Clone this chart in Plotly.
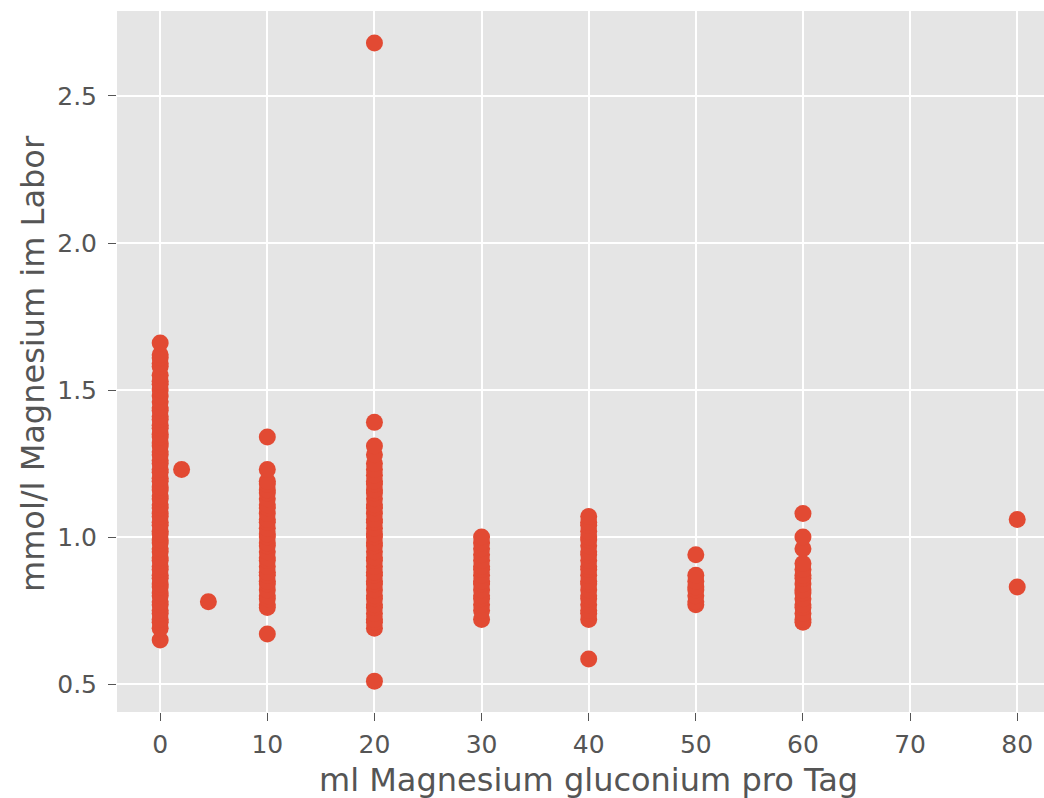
import plotly.graph_objects as go

# Daily magnesium gluconium dose (ml) and measured serum magnesium (mmol/l)
mg_dose_0 = [0.65, 0.69, 0.71, 0.72, 0.74, 0.75, 0.77, 0.78, 0.80, 0.81, 0.83, 0.84,
             0.86, 0.87, 0.89, 0.90, 0.92, 0.93, 0.95, 0.96, 0.98, 0.99, 1.01, 1.02,
             1.04, 1.05, 1.07, 1.08, 1.10, 1.11, 1.13, 1.14, 1.16, 1.17, 1.19, 1.20,
             1.22, 1.23, 1.25, 1.26, 1.28, 1.29, 1.31, 1.32, 1.34, 1.35, 1.37, 1.38,
             1.40, 1.41, 1.43, 1.44, 1.46, 1.48, 1.50, 1.52, 1.53, 1.55, 1.58, 1.59,
             1.61, 1.62, 1.66]
mg_dose_2 = [1.23]
mg_dose_4_5 = [0.78]
mg_dose_10 = [0.67, 0.76, 0.77, 0.79, 0.80, 0.82, 0.84, 0.85, 0.87, 0.88, 0.90, 0.92,
              0.93, 0.95, 0.97, 0.98, 1.00, 1.01, 1.03, 1.05, 1.06, 1.08, 1.10, 1.11,
              1.13, 1.15, 1.16, 1.18, 1.19, 1.23, 1.34]
mg_dose_20 = [0.51, 0.69, 0.71, 0.72, 0.74, 0.76, 0.77, 0.79, 0.80, 0.82, 0.84, 0.85,
              0.87, 0.88, 0.90, 0.92, 0.93, 0.95, 0.97, 0.98, 1.00, 1.01, 1.03, 1.05,
              1.06, 1.08, 1.10, 1.11, 1.13, 1.15, 1.16, 1.18, 1.19, 1.21, 1.23, 1.25,
              1.28, 1.31, 1.39, 2.68]
mg_dose_30 = [0.72, 0.75, 0.77, 0.79, 0.80, 0.82, 0.84, 0.85, 0.87, 0.89, 0.90, 0.92,
              0.94, 0.96, 0.98, 1.00]
mg_dose_40 = [0.585, 0.72, 0.74, 0.75, 0.77, 0.79, 0.80, 0.82, 0.84, 0.85, 0.87, 0.89,
              0.90, 0.92, 0.94, 0.95, 0.97, 0.99, 1.00, 1.02, 1.04, 1.05, 1.07]
mg_dose_50 = [0.77, 0.78, 0.80, 0.82, 0.83, 0.85, 0.87, 0.94]
mg_dose_60 = [0.71, 0.72, 0.74, 0.76, 0.77, 0.79, 0.81, 0.82, 0.84, 0.86, 0.87, 0.89,
              0.91, 0.96, 1.00, 1.08]
mg_dose_80 = [0.83, 1.06]

doses = [0, 2, 4.5, 10, 20, 30, 40, 50, 60, 80]
series = [mg_dose_0, mg_dose_2, mg_dose_4_5, mg_dose_10, mg_dose_20,
          mg_dose_30, mg_dose_40, mg_dose_50, mg_dose_60, mg_dose_80]

x_vals, y_vals = [], []
for d, vals in zip(doses, series):
    x_vals += [d] * len(vals)
    y_vals += vals

x_ticks = [0, 10, 20, 30, 40, 50, 60, 70, 80]
y_ticks = [0.5, 1.0, 1.5, 2.0, 2.5]

TEXT = "#555555"
FONT = "DejaVu Sans"

fig = go.Figure(go.Scatter(
    x=x_vals, y=y_vals, mode="markers",
    marker=dict(color="#E24A33", size=17, line=dict(width=0)),
))

axis_common = dict(
    showgrid=True, gridcolor="white", gridwidth=1.6,
    zeroline=False, showline=False,
    ticks="outside", ticklen=8, tickwidth=1.4, tickcolor=TEXT,
    tickfont=dict(family=FONT, size=25, color=TEXT),
)

fig.update_layout(
    width=1044, height=798,
    margin=dict(l=117, r=0, t=11, b=86),
    paper_bgcolor="white", plot_bgcolor="#E5E5E5",
    showlegend=False,
    xaxis=dict(range=[-4.03, 82.5], tickvals=x_ticks,
               ticktext=[str(v) for v in x_ticks],
               ticklabelstandoff=2, **axis_common),
    yaxis=dict(range=[0.405, 2.789], tickvals=y_ticks,
               ticktext=[f"{v:.1f}" for v in y_ticks],
               ticklabelstandoff=6, **axis_common),
)

# Axis titles, positioned in figure pixels converted to paper coordinates
h_plot = 798 - 11 - 86
w_plot = 1044 - 117
fig.add_annotation(text="ml Magnesium gluconium pro Tag", x=40, xref="x",
                   y=(798 - 780 - 86) / h_plot, yref="paper", yanchor="middle",
                   showarrow=False,
                   font=dict(family=FONT, size=32, color=TEXT))
fig.add_annotation(text="mmol/l Magnesium im Labor", textangle=-90,
                   x=(33 - 117) / w_plot, xref="paper", xanchor="center",
                   y=(798 - 86 - 364) / h_plot, yref="paper", yanchor="middle",
                   showarrow=False,
                   font=dict(family=FONT, size=32, color=TEXT))

fig.write_html("out.html")
